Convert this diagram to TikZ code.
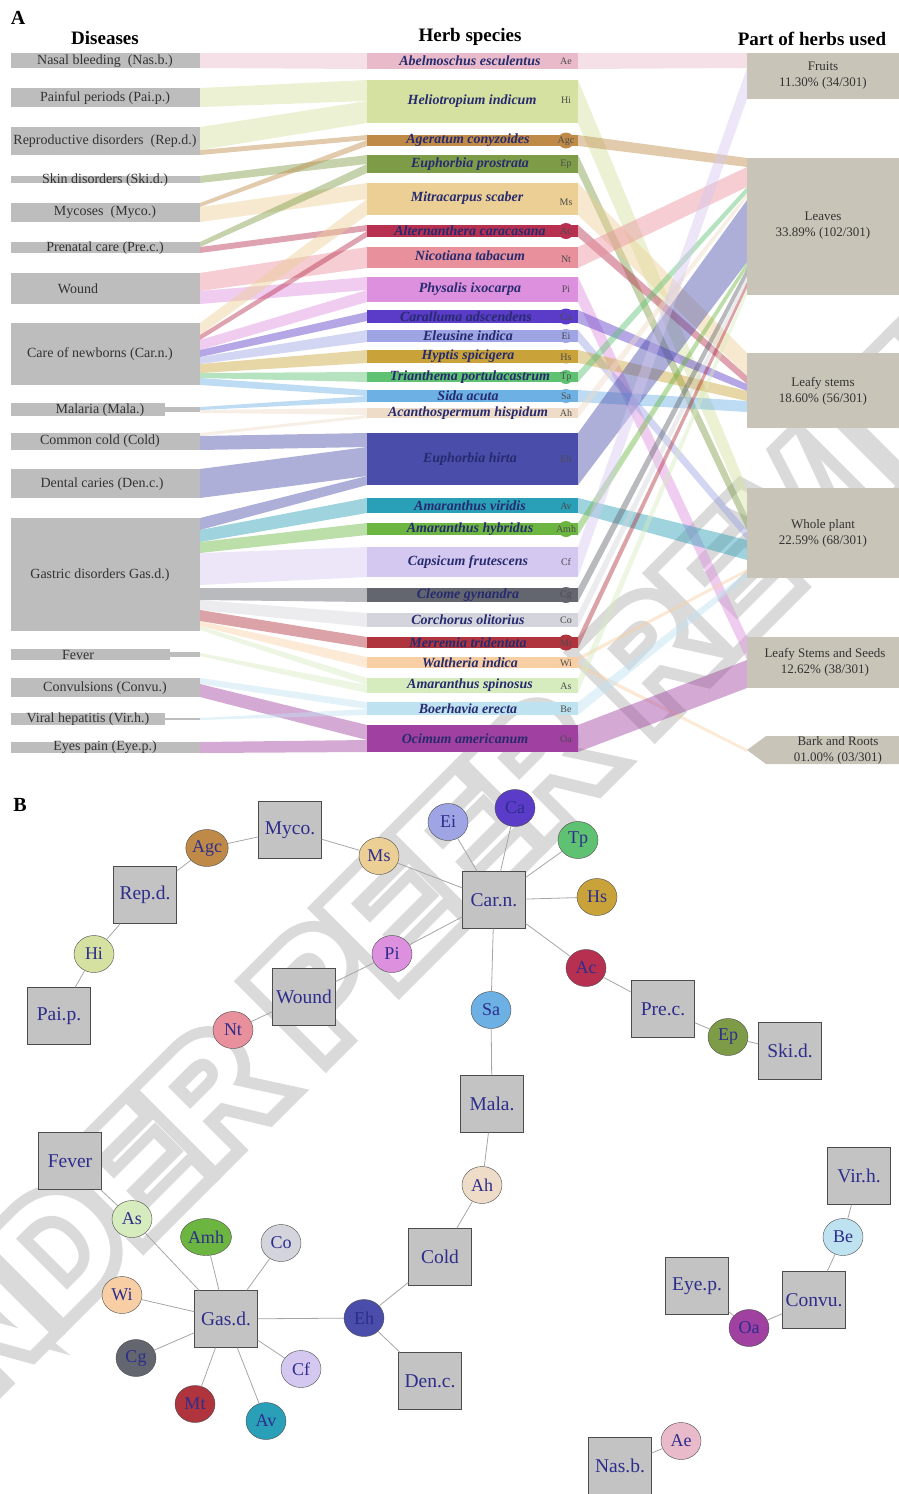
\documentclass[tikz,border=0pt]{standalone}
\usepackage{fontspec}
\setmainfont{Liberation Serif}
\newfontfamily\wmfont{Liberation Sans Bold}
\newfontfamily\wmfontfat[FakeBold=15]{Liberation Sans Bold}
\usetikzlibrary{shapes.geometric}
\definecolor{DisGray}{HTML}{BDBDBD}
\definecolor{PartGray}{HTML}{C9C4B8}
\definecolor{SqGray}{HTML}{C3C3C3}
\definecolor{HerbInk}{HTML}{262A6E}
\definecolor{NodeInk}{HTML}{2D2D8C}
\definecolor{WmGray}{HTML}{DADADA}
\definecolor{cAe}{HTML}{E9BBCA}
\definecolor{cHi}{HTML}{D5E1A0}
\definecolor{cAgc}{HTML}{BF8A48}
\definecolor{cEp}{HTML}{7E9C48}
\definecolor{cMs}{HTML}{EBCF95}
\definecolor{cAc}{HTML}{B83050}
\definecolor{cNt}{HTML}{E8909C}
\definecolor{cPi}{HTML}{DD90DD}
\definecolor{cCa}{HTML}{5A3CC8}
\definecolor{cEi}{HTML}{9EA4E4}
\definecolor{cHs}{HTML}{C9A33A}
\definecolor{cTp}{HTML}{5EC272}
\definecolor{cSa}{HTML}{6CB0E4}
\definecolor{cAh}{HTML}{EEDCC8}
\definecolor{cEh}{HTML}{4A4EAA}
\definecolor{cAv}{HTML}{2A9FB8}
\definecolor{cAmh}{HTML}{6BB540}
\definecolor{cCf}{HTML}{D5C8F0}
\definecolor{cCg}{HTML}{63666E}
\definecolor{cCo}{HTML}{D4D4DC}
\definecolor{cMt}{HTML}{B0343E}
\definecolor{cWi}{HTML}{F8CFA4}
\definecolor{cAs}{HTML}{D6EBBE}
\definecolor{cBe}{HTML}{BEE2F0}
\definecolor{cOa}{HTML}{A040A0}

\begin{document}
\begin{tikzpicture}[x=1pt,y=-1pt,
    dlab/.style={font=\fontsize{14}{14}\selectfont,text=black!80,inner sep=0},
    hlab/.style={font=\fontsize{14}{14}\selectfont\bfseries\itshape,text=HerbInk,inner sep=0},
    abbr/.style={font=\fontsize{10}{10}\selectfont,text=black!70,inner sep=0},
    band/.style={fill opacity=0.45},
    plab/.style={font=\fontsize{13}{16}\selectfont,text=black!80,align=center,inner sep=0},
    head/.style={font=\fontsize{19}{19}\selectfont\bfseries,inner sep=0},
    wmark/.style={rotate=45,inner sep=0},
    sq/.style={draw=black!70,fill=SqGray,minimum width=63pt,minimum height=57pt,inner sep=0,
      font=\fontsize{19.5}{19.5}\selectfont,text=NodeInk},
    herb/.style={ellipse,draw=black!70,minimum width=40pt,minimum height=37pt,inner sep=0,
      font=\fontsize{18}{18}\selectfont,text=NodeInk},
    edge/.style={draw=black!35,line width=0.8pt}]
  \useasboundingbox (0,0) rectangle (899,1494);

  % watermark, hollow letters
  \node[wmark,text=WmGray,font=\wmfontfat\fontsize{155}{155}\selectfont] (wmA) at (452,856) {UNDER PEER REVIEW};
  \node[wmark,text=white,font=\wmfont\fontsize{155}{155}\selectfont] (wmB) at (wmA) {UNDER PEER REVIEW};

  % titles
  \node[head,font=\fontsize{20}{20}\selectfont\bfseries] (tA) at (18,18) {A};
  \node[head] (tDis) at (105,38) {Diseases};
  \node[head] (tHerb) at (470,37) {Herb species};
  \node[head] (tPart) at (812,39) {Part of herbs used};

  % disease -> herb bands
  \fill[band,fill=cAe] (200,53) -- (367,53) -- (367,69) -- (200,68) -- cycle;
  \fill[band,fill=cHi] (200,88) -- (367,80) -- (367,101) -- (200,107) -- cycle;
  \fill[band,fill=cHi] (200,127) -- (367,101) -- (367,123) -- (200,150) -- cycle;
  \fill[band,fill=cAgc] (200,150) -- (367,135) -- (367,140) -- (200,155) -- cycle;
  \fill[band,fill=cEp] (200,176) -- (367,155) -- (367,164) -- (200,183) -- cycle;
  \fill[band,fill=cAgc] (200,203) -- (367,140) -- (367,146) -- (200,207) -- cycle;
  \fill[band,fill=cMs] (200,207) -- (367,183) -- (367,199) -- (200,222) -- cycle;
  \fill[band,fill=cEp] (200,242) -- (367,164) -- (367,173) -- (200,247) -- cycle;
  \fill[band,fill=cAc] (200,247) -- (367,225) -- (367,231) -- (200,253) -- cycle;
  \fill[band,fill=cNt] (200,273) -- (367,247) -- (367,268) -- (200,291) -- cycle;
  \fill[band,fill=cPi] (200,291) -- (367,277) -- (367,290) -- (200,304) -- cycle;
  \fill[band,fill=cMs] (200,323) -- (367,199) -- (367,215) -- (200,335) -- cycle;
  \fill[band,fill=cAc] (200,335) -- (367,231) -- (367,237) -- (200,340) -- cycle;
  \fill[band,fill=cPi] (200,340) -- (367,290) -- (367,302) -- (200,350) -- cycle;
  \fill[band,fill=cCa] (200,350) -- (367,312) -- (367,321) -- (200,357) -- cycle;
  \fill[band,fill=cEi] (200,357) -- (367,330) -- (367,342) -- (200,364) -- cycle;
  \fill[band,fill=cHs] (200,364) -- (367,350) -- (367,363) -- (200,373) -- cycle;
  \fill[band,fill=cTp] (200,373) -- (367,372) -- (367,382) -- (200,378) -- cycle;
  \fill[band,fill=cSa] (200,378) -- (367,390) -- (367,396) -- (200,385) -- cycle;
  \fill[band,fill=cSa] (200,407) -- (367,396) -- (367,402) -- (200,410) -- cycle;
  \fill[band,fill=cAh] (200,410) -- (367,408) -- (367,415) -- (200,413) -- cycle;
  \fill[band,fill=cAh] (200,433) -- (367,415) -- (367,418) -- (200,436) -- cycle;
  \fill[band,fill=cEh] (200,436) -- (367,433) -- (367,447) -- (200,450) -- cycle;
  \fill[band,fill=cEh] (200,469) -- (367,447) -- (367,476) -- (200,498) -- cycle;
  \fill[band,fill=cEh] (200,518) -- (367,476) -- (367,485) -- (200,530) -- cycle;
  \fill[band,fill=cAv] (200,530) -- (367,498) -- (367,513) -- (200,542) -- cycle;
  \fill[band,fill=cAmh] (200,542) -- (367,523) -- (367,535) -- (200,553) -- cycle;
  \fill[band,fill=cCf] (200,553) -- (367,547) -- (367,577) -- (200,585) -- cycle;
  \fill[band,fill=cCg] (200,588) -- (367,588) -- (367,602) -- (200,600) -- cycle;
  \fill[band,fill=cCo] (200,600) -- (367,613) -- (367,627) -- (200,610) -- cycle;
  \fill[band,fill=cMt] (200,610) -- (367,637) -- (367,648) -- (200,621) -- cycle;
  \fill[band,fill=cWi] (200,621) -- (367,657) -- (367,668) -- (200,626) -- cycle;
  \fill[band,fill=cAs] (200,626) -- (367,678) -- (367,685) -- (200,630) -- cycle;
  \fill[band,fill=cAs] (200,653) -- (367,685) -- (367,693) -- (200,656) -- cycle;
  \fill[band,fill=cBe] (200,678) -- (367,702) -- (367,709) -- (200,684) -- cycle;
  \fill[band,fill=cOa] (200,684) -- (367,725) -- (367,740) -- (200,697) -- cycle;
  \fill[band,fill=cBe] (200,718) -- (367,709) -- (367,715) -- (200,720) -- cycle;
  \fill[band,fill=cOa] (200,742) -- (367,740) -- (367,752) -- (200,753) -- cycle;

  % herb -> part bands
  \fill[band,fill=cAe] (578,53) -- (747,53) -- (747,68) -- (578,69) -- cycle;
  \fill[band,fill=cHi] (578,80) -- (747,488) -- (747,515) -- (578,123) -- cycle;
  \fill[band,fill=cAgc] (578,135) -- (747,158) -- (747,167) -- (578,146) -- cycle;
  \fill[band,fill=cEp] (578,155) -- (747,515) -- (747,530) -- (578,173) -- cycle;
  \fill[band,fill=cMs] (578,183) -- (747,353) -- (747,376) -- (578,215) -- cycle;
  \fill[band,fill=cAc] (578,225) -- (747,376) -- (747,384) -- (578,237) -- cycle;
  \fill[band,fill=cNt] (578,247) -- (747,167) -- (747,187) -- (578,268) -- cycle;
  \fill[band,fill=cPi] (578,277) -- (747,637) -- (747,660) -- (578,302) -- cycle;
  \fill[band,fill=cCa] (578,310) -- (747,384) -- (747,391) -- (578,323) -- cycle;
  \fill[band,fill=cEi] (578,330) -- (747,530) -- (747,540) -- (578,342) -- cycle;
  \fill[band,fill=cHs] (578,350) -- (747,391) -- (747,401) -- (578,363) -- cycle;
  \fill[band,fill=cTp] (578,372) -- (747,187) -- (747,193) -- (578,382) -- cycle;
  \fill[band,fill=cSa] (578,390) -- (747,401) -- (747,412) -- (578,402) -- cycle;
  \fill[band,fill=cAh] (578,408) -- (747,193) -- (747,198) -- (578,418) -- cycle;
  \fill[band,fill=cEh] (578,433) -- (747,200) -- (747,262) -- (578,485) -- cycle;
  \fill[band,fill=cAv] (578,498) -- (747,540) -- (747,560) -- (578,513) -- cycle;
  \fill[band,fill=cAmh] (578,523) -- (747,262) -- (747,268) -- (578,535) -- cycle;
  \fill[band,fill=cCf] (578,547) -- (747,68) -- (747,99) -- (578,577) -- cycle;
  \fill[band,fill=cCg] (578,588) -- (747,268) -- (747,276) -- (578,602) -- cycle;
  \fill[band,fill=cCo] (578,613) -- (747,276) -- (747,282) -- (578,627) -- cycle;
  \fill[band,fill=cMt] (578,637) -- (747,282) -- (747,288) -- (578,648) -- cycle;
  \fill[band,fill=cWi] (578,657) -- (747,569) -- (747,572) -- (578,661) -- cycle;
  \fill[band,fill=cWi] (578,663) -- (747,749) -- (747,752) -- (578,667) -- cycle;
  \fill[band,fill=cAs] (578,678) -- (747,288) -- (747,295) -- (578,693) -- cycle;
  \fill[band,fill=cBe] (578,702) -- (747,572) -- (747,578) -- (578,715) -- cycle;
  \fill[band,fill=cOa] (578,725) -- (747,660) -- (747,688) -- (578,752) -- cycle;

  % disease boxes
  \fill[DisGray] (11,53) rectangle (200,68);
  \node[dlab] (dNas) at (105,61) {Nasal bleeding~ (Nas.b.)};
  \fill[DisGray] (11,88) rectangle (200,107);
  \node[dlab] (dPai) at (105,98) {Painful periods (Pai.p.)};
  \fill[DisGray] (11,127) rectangle (200,155);
  \node[dlab] (dRep) at (105,141) {Reproductive disorders~ (Rep.d.)};
  \fill[DisGray] (11,176) rectangle (200,183);
  \node[dlab] (dSki) at (105,180) {Skin disorders (Ski.d.)};
  \fill[DisGray] (11,203) rectangle (200,222);
  \node[dlab] (dMyc) at (105,212) {Mycoses~ (Myco.)};
  \fill[DisGray] (11,242) rectangle (200,253);
  \node[dlab] (dPre) at (105,248) {Prenatal care (Pre.c.)};
  \fill[DisGray] (11,273) rectangle (200,304);
  \node[dlab] (dWou) at (78,289) {Wound};
  \fill[DisGray] (11,323) rectangle (200,385);
  \node[dlab] (dCar) at (100,354) {Care of newborns (Car.n.)};
  \fill[DisGray] (11,403) rectangle (165,416);
  \fill[DisGray] (165,407) rectangle (200,412);
  \node[dlab] (dMal) at (100,410) {Malaria (Mala.)};
  \fill[DisGray] (11,433) rectangle (200,450);
  \node[dlab] (dCol) at (100,441) {Common cold (Cold)};
  \fill[DisGray] (11,469) rectangle (200,498);
  \node[dlab] (dDen) at (102,484) {Dental caries (Den.c.)};
  \fill[DisGray] (11,518) rectangle (200,631);
  \node[dlab] (dGas) at (100,575) {Gastric disorders Gas.d.)};
  \fill[DisGray] (11,649) rectangle (170,660);
  \fill[DisGray] (170,652) rectangle (200,657);
  \node[dlab] (dFev) at (78,655) {Fever};
  \fill[DisGray] (11,678) rectangle (200,697);
  \node[dlab] (dCon) at (105,688) {Convulsions (Convu.)};
  \fill[DisGray] (11,713) rectangle (165,725);
  \fill[DisGray] (165,718) rectangle (200,720);
  \node[dlab] (dVir) at (88,719) {Viral hepatitis (Vir.h.)};
  \fill[DisGray] (11,742) rectangle (200,753);
  \node[dlab] (dEye) at (105,747) {Eyes pain (Eye.p.)};

  % herb bars
  \fill[cAe] (367,53) rectangle (578,69);
  \node[hlab] (hAe) at (470,61) {Abelmoschus esculentus};
  \node[abbr] (aAe) at (566,61) {Ae};
  \fill[cHi] (367,80) rectangle (578,123);
  \node[hlab] (hHi) at (472,101) {Heliotropium indicum};
  \node[abbr] (aHi) at (566,100) {Hi};
  \fill[cAgc] (367,135) rectangle (578,146);
  \fill[cAgc] (566,140.5) circle (8);
  \node[hlab] (hAgc) at (468,140.5) {Ageratum conyzoides};
  \node[abbr] (aAgc) at (566,141) {Agc};
  \fill[cEp] (367,155) rectangle (578,173);
  \node[hlab] (hEp) at (470,164) {Euphorbia prostrata};
  \node[abbr] (aEp) at (566,164) {Ep};
  \fill[cMs] (367,183) rectangle (578,215);
  \node[hlab] (hMs) at (467,198) {Mitracarpus scaber};
  \node[abbr] (aMs) at (566,202) {Ms};
  \fill[cAc] (367,225) rectangle (578,237);
  \fill[cAc] (566,231) circle (8);
  \node[hlab] (hAc) at (470,231) {Alternanthera caracasana};
  \node[abbr] (aAc) at (566,231) {Ac};
  \fill[cNt] (367,247) rectangle (578,268);
  \node[hlab] (hNt) at (470,256) {Nicotiana tabacum};
  \node[abbr] (aNt) at (566,259) {Nt};
  \fill[cPi] (367,277) rectangle (578,302);
  \node[hlab] (hPi) at (470,289) {Physalis ixocarpa};
  \node[abbr] (aPi) at (566,289) {Pi};
  \fill[cCa] (367,310) rectangle (578,323);
  \fill[cCa] (566,316.5) circle (8);
  \node[hlab] (hCa) at (466,316.5) {Caralluma adscendens};
  \node[abbr] (aCa) at (566,317) {Ca};
  \fill[cEi] (367,330) rectangle (578,342);
  \fill[cEi] (566,336) circle (7);
  \node[hlab] (hEi) at (468,336) {Eleusine indica};
  \node[abbr] (aEi) at (566,336) {Ei};
  \fill[cHs] (367,350) rectangle (578,363);
  \fill[cHs] (566,356.5) circle (7);
  \node[hlab] (hHs) at (468,356.5) {Hyptis spicigera};
  \node[abbr] (aHs) at (566,357) {Hs};
  \fill[cTp] (367,372) rectangle (578,382);
  \fill[cTp] (566,377) circle (7);
  \node[hlab] (hTp) at (470,377) {Trianthema portulacastrum};
  \node[abbr] (aTp) at (566,377) {Tp};
  \fill[cSa] (367,390) rectangle (578,402);
  \fill[cSa] (566,396) circle (7);
  \node[hlab] (hSa) at (468,396) {Sida acuta};
  \node[abbr] (aSa) at (566,396) {Sa};
  \fill[cAh] (367,408) rectangle (578,418);
  \node[hlab] (hAh) at (468,413) {Acanthospermum hispidum};
  \node[abbr] (aAh) at (566,413) {Ah};
  \fill[cEh] (367,433) rectangle (578,485);
  \node[hlab] (hEh) at (470,459) {Euphorbia hirta};
  \node[abbr] (aEh) at (566,459) {Eh};
  \fill[cAv] (367,498) rectangle (578,513);
  \node[hlab] (hAv) at (470,505.5) {Amaranthus viridis};
  \node[abbr] (aAv) at (566,506) {Av};
  \fill[cAmh] (367,523) rectangle (578,535);
  \fill[cAmh] (566,529) circle (8);
  \node[hlab] (hAmh) at (470,529) {Amaranthus hybridus};
  \node[abbr] (aAmh) at (566,529) {Amh};
  \fill[cCf] (367,547) rectangle (578,577);
  \node[hlab] (hCf) at (468,562) {Capsicum frutescens};
  \node[abbr] (aCf) at (566,562) {Cf};
  \fill[cCg] (367,588) rectangle (578,602);
  \fill[cCg] (566,595) circle (8);
  \node[hlab] (hCg) at (468,595) {Cleome gynandra};
  \node[abbr] (aCg) at (566,595) {Cg};
  \fill[cCo] (367,613) rectangle (578,627);
  \node[hlab] (hCo) at (468,620) {Corchorus olitorius};
  \node[abbr] (aCo) at (566,620) {Co};
  \fill[cMt] (367,637) rectangle (578,648);
  \fill[cMt] (566,642.5) circle (8);
  \node[hlab] (hMt) at (468,642.5) {Merremia tridentata};
  \node[abbr] (aMt) at (566,643) {Mt};
  \fill[cWi] (367,657) rectangle (578,668);
  \node[hlab] (hWi) at (470,662.5) {Waltheria indica};
  \node[abbr] (aWi) at (566,663) {Wi};
  \fill[cAs] (367,678) rectangle (578,693);
  \node[hlab] (hAs) at (470,685.5) {Amaranthus spinosus};
  \node[abbr] (aAs) at (566,686) {As};
  \fill[cBe] (367,702) rectangle (578,715);
  \node[hlab] (hBe) at (468,708.5) {Boerhavia erecta};
  \node[abbr] (aBe) at (566,709) {Be};
  \fill[cOa] (367,725) rectangle (578,752);
  \node[hlab] (hOa) at (465,738.5) {Ocimum americanum};
  \node[abbr] (aOa) at (566,739) {Oa};

  % parts of herbs
  \fill[PartGray] (747,53) rectangle (899,99);
  \node[plab] (pFru) at (823,76) {Fruits\\11.30\% (34/301)};
  \fill[PartGray] (747,158) rectangle (899,295);
  \node[plab] (pLea) at (823,226) {Leaves\\33.89\% (102/301)};
  \fill[PartGray] (747,353) rectangle (899,428);
  \node[plab] (pLst) at (823,391) {Leafy stems\\18.60\% (56/301)};
  \fill[PartGray] (747,488) rectangle (899,578);
  \node[plab] (pWho) at (823,533) {Whole plant\\22.59\% (68/301)};
  \fill[PartGray] (747,637) rectangle (899,688);
  \node[plab] (pLss) at (825,662) {Leafy Stems and Seeds\\12.62\% (38/301)};
  \fill[PartGray] (747,750) -- (766,736) -- (899,736) -- (899,764) -- (766,764) -- cycle;
  \node[plab] (pBar) at (838,750) {Bark and Roots\\01.00\% (03/301)};

  % network B
  \node[head,font=\fontsize{20}{20}\selectfont\bfseries] (tB) at (20,805) {B};
  \node[sq] (nMyco) at (290,830) {Myco.};
  \node[sq] (nRepd) at (145,895) {Rep.d.};
  \node[sq] (nPaip) at (59,1016) {Pai.p.};
  \node[sq] (nWound) at (304,997) {Wound};
  \node[sq] (nCarn) at (494,900) {Car.n.};
  \node[sq] (nPrec) at (663,1009) {Pre.c.};
  \node[sq] (nSkid) at (790,1051) {Ski.d.};
  \node[sq] (nMala) at (492,1104) {Mala.};
  \node[sq] (nFever) at (70,1161) {Fever};
  \node[sq] (nGasd) at (226,1319) {Gas.d.};
  \node[sq] (nCold) at (440,1257) {Cold};
  \node[sq] (nDenc) at (430,1381) {Den.c.};
  \node[sq] (nVirh) at (859,1176) {Vir.h.};
  \node[sq] (nConvu) at (814,1300) {Convu.};
  \node[sq] (nEyep) at (697,1286) {Eye.p.};
  \node[sq] (nNasb) at (620,1466) {Nas.b.};

  \node[herb,fill=cAgc] (bAgc) at (207,848) {Agc};
  \node[herb,fill=cMs] (bMs) at (379,856) {Ms};
  \node[herb,fill=cHi] (bHi) at (94,954) {Hi};
  \node[herb,fill=cPi] (bPi) at (392,954) {Pi};
  \node[herb,fill=cNt] (bNt) at (233,1030) {Nt};
  \node[herb,fill=cEi] (bEi) at (448,822) {Ei};
  \node[herb,fill=cCa] (bCa) at (515,808) {Ca};
  \node[herb,fill=cTp] (bTp) at (578,840) {Tp};
  \node[herb,fill=cHs] (bHs) at (597,897) {Hs};
  \node[herb,fill=cAc] (bAc) at (586,968) {Ac};
  \node[herb,fill=cSa] (bSa) at (491,1010) {Sa};
  \node[herb,fill=cEp] (bEp) at (728,1037) {Ep};
  \node[herb,fill=cAh] (bAh) at (482,1185) {Ah};
  \node[herb,fill=cAs] (bAs) at (132,1219) {As};
  \node[herb,fill=cAmh] (bAmh) at (206,1237) {Amh};
  \node[herb,fill=cCo] (bCo) at (281,1243) {Co};
  \node[herb,fill=cWi] (bWi) at (122,1295) {Wi};
  \node[herb,fill=cEh] (bEh) at (364,1318) {Eh};
  \node[herb,fill=cCg] (bCg) at (136,1358) {Cg};
  \node[herb,fill=cCf] (bCf) at (301,1369) {Cf};
  \node[herb,fill=cMt] (bMt) at (195,1404) {Mt};
  \node[herb,fill=cAv] (bAv) at (266,1421) {Av};
  \node[herb,fill=cBe] (bBe) at (843,1237) {Be};
  \node[herb,fill=cOa] (bOa) at (749,1328) {Oa};
  \node[herb,fill=cAe] (bAe) at (681,1441) {Ae};

  \draw[edge] (nPaip) -- (bHi) -- (nRepd) -- (bAgc) -- (nMyco) -- (bMs) -- (nCarn);
  \draw[edge] (nCarn) -- (bEi);
  \draw[edge] (nCarn) -- (bCa);
  \draw[edge] (nCarn) -- (bTp);
  \draw[edge] (nCarn) -- (bHs);
  \draw[edge] (nCarn) -- (bAc) -- (nPrec) -- (bEp) -- (nSkid);
  \draw[edge] (nCarn) -- (bPi) -- (nWound) -- (bNt);
  \draw[edge] (nCarn) -- (bSa) -- (nMala) -- (bAh) -- (nCold) -- (bEh) -- (nDenc);
  \draw[edge] (bEh) -- (nGasd);
  \draw[edge] (nGasd) -- (bAs) -- (nFever);
  \draw[edge] (nGasd) -- (bAmh);
  \draw[edge] (nGasd) -- (bCo);
  \draw[edge] (nGasd) -- (bWi);
  \draw[edge] (nGasd) -- (bCg);
  \draw[edge] (nGasd) -- (bMt);
  \draw[edge] (nGasd) -- (bAv);
  \draw[edge] (nGasd) -- (bCf);
  \draw[edge] (nVirh) -- (bBe) -- (nConvu) -- (bOa) -- (nEyep);
  \draw[edge] (nNasb) -- (bAe);
\end{tikzpicture}
\end{document}
